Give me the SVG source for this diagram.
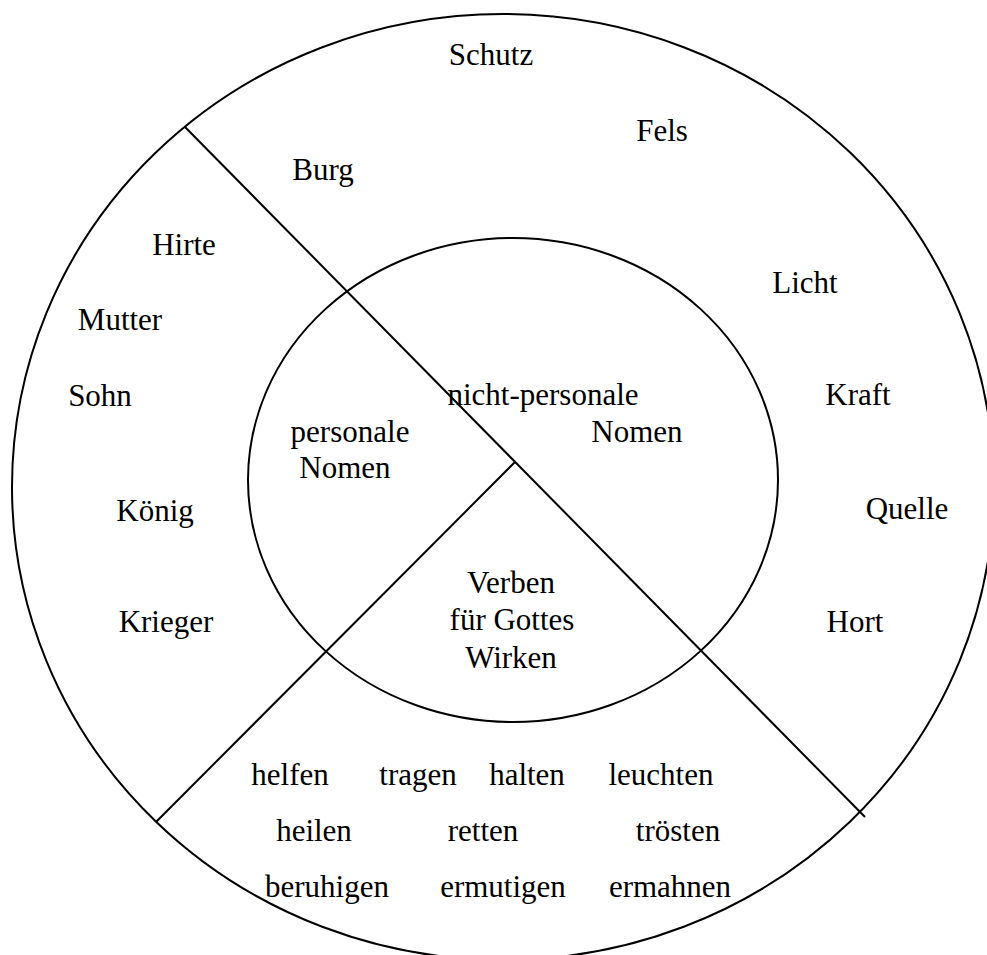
<svg xmlns="http://www.w3.org/2000/svg" width="987" height="955" viewBox="0 0 987 955">
<style>
  .ring { fill: none; stroke: #000; stroke-width: 2; }
  .conn { stroke: #000; stroke-width: 2; fill: none; }
  text { font-family: "Liberation Serif", "Times New Roman", serif; font-size: 31px; fill: #000; text-anchor: middle; }
</style>
<rect width="987" height="955" fill="#fff"/>
<g id="outer-circle">
  <ellipse class="ring" cx="503" cy="487" rx="491" ry="473"/>
</g>
<g id="inner-circle">
  <ellipse class="ring" cx="513" cy="480" rx="265" ry="242"/>
</g>
<g id="connectors">
  <line class="conn" x1="185" y1="127" x2="865" y2="817"/>
  <line class="conn" x1="515" y1="462" x2="156" y2="822"/>
</g>
<g id="nicht-personale-nomen">
  <text x="543" y="405">nicht-personale</text>
  <text x="637" y="442">Nomen</text>
</g>
<g id="personale-nomen">
  <text x="350" y="442">personale</text>
  <text x="345" y="478">Nomen</text>
</g>
<g id="verben">
  <text x="511" y="593">Verben</text>
  <text x="512" y="630">für Gottes</text>
  <text x="511" y="668">Wirken</text>
</g>
<g id="nicht-personal-words">
  <text x="491" y="65">Schutz</text>
  <text x="662" y="141">Fels</text>
  <text x="323" y="180">Burg</text>
  <text x="805" y="293">Licht</text>
  <text x="858" y="405">Kraft</text>
  <text x="907" y="519">Quelle</text>
  <text x="855" y="632">Hort</text>
</g>
<g id="personal-words">
  <text x="184" y="255">Hirte</text>
  <text x="120" y="330">Mutter</text>
  <text x="100" y="406">Sohn</text>
  <text x="155" y="521">König</text>
  <text x="166" y="632">Krieger</text>
</g>
<g id="verb-words">
  <text x="290" y="785">helfen</text>
  <text x="418" y="785">tragen</text>
  <text x="527" y="785">halten</text>
  <text x="661" y="785">leuchten</text>
  <text x="314" y="841">heilen</text>
  <text x="483" y="841">retten</text>
  <text x="678" y="841">trösten</text>
  <text x="327" y="897">beruhigen</text>
  <text x="503" y="897">ermutigen</text>
  <text x="670" y="897">ermahnen</text>
</g>
</svg>
